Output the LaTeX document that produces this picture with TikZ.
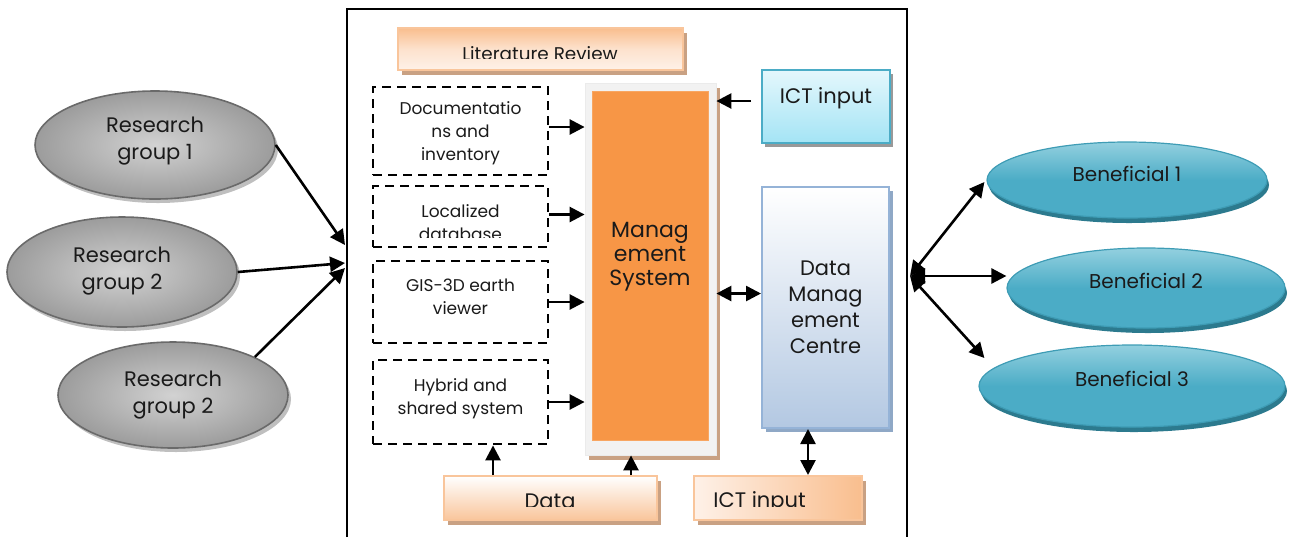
\documentclass[tikz,border=0pt]{standalone}
\usepackage{fontspec}
\setmainfont{Poppins}
\usetikzlibrary{arrows.meta,shapes.geometric,shadows,calc}
\definecolor{peachEdge}{HTML}{F9C59B}
\definecolor{peachDark}{HTML}{F9BE8E}
\definecolor{peachLight}{HTML}{FEF1E8}
\definecolor{shadowTan}{HTML}{C9A183}
\definecolor{orangeMS}{HTML}{F79646}
\definecolor{msFrame}{HTML}{F2F2F2}
\definecolor{ictTop}{HTML}{E4F7FC}
\definecolor{ictBot}{HTML}{A4E4F5}
\definecolor{ictEdge}{HTML}{4BACC6}
\definecolor{dmcBot}{HTML}{B3C8E2}
\definecolor{dmcEdge}{HTML}{95B3D7}
\definecolor{dmcShadow}{HTML}{8FA8C6}
\definecolor{greyIn}{HTML}{D2D2D2}
\definecolor{greyOut}{HTML}{9C9C9C}
\definecolor{greyEdge}{HTML}{6A6A6A}
\definecolor{blueTop}{HTML}{93D0DF}
\definecolor{blueMid}{HTML}{4BACC6}
\definecolor{blueEdge}{HTML}{3E9CB5}
\definecolor{blueShadow}{HTML}{2C7A8E}
\definecolor{txt}{HTML}{1A1A1A}
\tikzset{
  tip/.tip={Triangle[length=7.5pt,width=7.5pt]},
  arr/.style={-tip, line width=1.3pt},
  dbl/.style={tip-tip, line width=1.3pt},
  dbox/.style={draw, dash pattern=on 4.5pt off 3pt, line width=1.4pt, align=center,
    font=\fontsize{8.5}{11.5}\selectfont, text=txt, minimum width=87.5pt, inner sep=0pt},
  peachbox/.style={draw=peachEdge, line width=1pt, inner sep=0pt,
    drop shadow={shadow xshift=2pt, shadow yshift=-2.5pt, fill=shadowTan, opacity=1}},
  lbl/.style={inner sep=0pt, anchor=base, text=txt},
  greyell/.style={ellipse, draw=greyEdge, line width=0.8pt, inner sep=0pt, align=center,
    inner color=greyIn, outer color=greyOut, text=txt,
    font=\fontsize{10.5}{13.5}\selectfont,
    drop shadow={shadow xshift=1.5pt, shadow yshift=-2pt, fill=black!25, opacity=1}},
  blueell/.style={ellipse, draw=blueEdge, line width=0.6pt, inner sep=0pt, align=center,
    top color=blueTop, bottom color=blueMid, middle color=blueMid, text=txt,
    font=\fontsize{10}{12}\selectfont, text depth=7.5pt,
    drop shadow={shadow xshift=1pt, shadow yshift=-2.5pt, fill=blueShadow, opacity=1}},
}
\begin{document}
\begin{tikzpicture}[x=0.5pt,y=-0.5pt]
\useasboundingbox (0,0) rectangle (1289,537);
% outer frame
\draw[line width=1pt] (347,537) -- (347,9) -- (907,9) -- (907,537);
\coordinate (in1) at (345,245);
\coordinate (in2) at (345,263);
\coordinate (in3) at (345,268);
\coordinate (hub) at (910,276);

% literature review
\node[peachbox, top color=peachDark, bottom color=peachLight, middle color=peachLight!70!peachDark,
  minimum width=142.5pt, minimum height=21pt] (lit) at (540.5,49) {};
\begin{scope}
\clip (400,30) rectangle (680,58.5);
\node[lbl, font=\fontsize{9.2}{10}\selectfont] (litT) at (540,60) {Literature Review};
\end{scope}

% dashed boxes
\node[dbox, minimum height=44pt, text depth=-2pt] (d1) at (460.5,131) {Documentatio\\ns and\\inventory};
\node[dbox, minimum height=30.5pt] (d2) at (460.5,216.5) {};
\begin{scope}
\clip (380,190) rectangle (540,237);
\node[lbl, font=\fontsize{8.5}{11.5}\selectfont, align=center] (d2T) at (460.5,217) {Localized};
\node[lbl, font=\fontsize{8.5}{11.5}\selectfont, align=center] (d2U) at (460.5,240) {database};
\end{scope}
\node[dbox, minimum height=41pt, text depth=5pt] (d3) at (460.5,302) {GIS-3D earth\\viewer};
\node[dbox, minimum height=42pt, text depth=5pt] (d4) at (460.5,402) {Hybrid and\\shared system};

% management system
\node[fill=msFrame, draw=black!8, inner sep=0pt, minimum width=65.5pt, minimum height=186pt,
  drop shadow={shadow xshift=2pt, shadow yshift=-2.5pt, fill=shadowTan, opacity=1}] (ms) at (650.5,269) {};
\node[fill=orangeMS, draw=orangeMS!85!white, inner sep=0pt, minimum width=58pt, minimum height=174.5pt,
  align=center, text=txt, font=\fontsize{11}{12}\selectfont, text depth=12pt] (msi) at (650,265.5) {Manag\\ement\\System};

% ICT input top
\node[draw=ictEdge, line width=1pt, top color=ictTop, bottom color=ictBot, inner sep=0pt,
  minimum width=64pt, minimum height=36.5pt, text=txt, font=\fontsize{10.5}{12}\selectfont, text depth=11pt,
  drop shadow={shadow xshift=1.5pt, shadow yshift=-2pt, fill=black!40, opacity=1}] (ict1) at (826,106.5) {ICT input};

% Data management centre
\node[draw=dmcEdge, line width=1pt, top color=white, bottom color=dmcBot, inner sep=0pt,
  minimum width=63.5pt, minimum height=120.5pt, align=center, text=txt, font=\fontsize{10.5}{13}\selectfont,
  drop shadow={shadow xshift=2pt, shadow yshift=-2pt, fill=dmcShadow, opacity=1}] (dmc) at (825.5,307.5) {Data\\Manag\\ement\\Centre};

% bottom boxes
\node[peachbox, top color=white, bottom color=peachEdge, minimum width=106.5pt, minimum height=22pt] (data) at (550.5,498) {};
\node[peachbox, left color=peachLight, right color=peachDark, minimum width=84pt, minimum height=22pt] (ict2) at (778,498) {};
\begin{scope}
\clip (448,480) rectangle (850,506);
\node[lbl, font=\fontsize{10.5}{12}\selectfont] (dataT) at (550,508) {Data};
\node[lbl, font=\fontsize{10.5}{12}\selectfont, anchor=base west] (ict2T) at (713,507) {ICT input};
\end{scope}

% left ellipses
\node[greyell, minimum width=120pt, minimum height=54pt, text depth=6.5pt] (rg1) at (155,145) {Research\\group 1};
\node[greyell, minimum width=115pt, minimum height=55pt, text depth=3.5pt] (rg2) at (122,272) {Research\\group 2};
\node[greyell, minimum width=115pt, minimum height=53pt] (rg3) at (173,395) {Research\\group 2};

% right ellipses
\node[blueell, minimum width=140pt, minimum height=38pt, text depth=6pt] (b1) at (1127,180) {Beneficial 1};
\node[blueell, minimum width=139pt, minimum height=40pt] (b2) at (1146,288) {Beneficial 2};
\node[blueell, minimum width=153pt, minimum height=41pt] (b3) at (1132,386) {Beneficial 3};

% arrows
\draw[arr] (rg1.east) -- (in1);
\draw[arr] (rg2.east) -- (in2);
\draw[arr] (rg3.north east) -- (in3);

\draw[arr] ([yshift=2pt]d1.east) -- ([yshift=2pt]d1.east -| ms.west);
\draw[arr] ([yshift=1pt]d2.east) -- ([yshift=1pt]d2.east -| ms.west);
\draw[arr] (d3.east) -- (d3.east -| ms.west);
\draw[arr] (d4.east) -- (d4.east -| ms.west);

\coordinate (ic) at ($(ict1.west)+(0,-5.5)$);
\draw[arr, shorten <=5pt] (ic) -- (ic -| ms.east);

\coordinate (mm) at ($(dmc.west)+(0,-14)$);
\draw[dbl] (mm) -- (mm -| ms.east);

\coordinate (dA) at ($(data.north)+(-57.5,0)$);
\draw[arr] (dA) -- (dA |- d4.south);
\coordinate (dB) at ($(data.north)+(80.5,0)$);
\draw[arr] (dB) -- (dB |- ms.south);

\coordinate (dv) at ($(dmc.south)+(-17.5,0)$);
\draw[dbl] (dv |- ict2.north) -- (dv);

\coordinate (e1) at ($(b1.west)+(-2,2)$);
\coordinate (e3) at ($(b3.west)+(6,-28)$);
\draw[dbl] (hub) -- (e1);
\draw[dbl] (hub) -- (hub -| b2.west);
\draw[dbl] (hub) -- (e3);
\end{tikzpicture}
\end{document}
